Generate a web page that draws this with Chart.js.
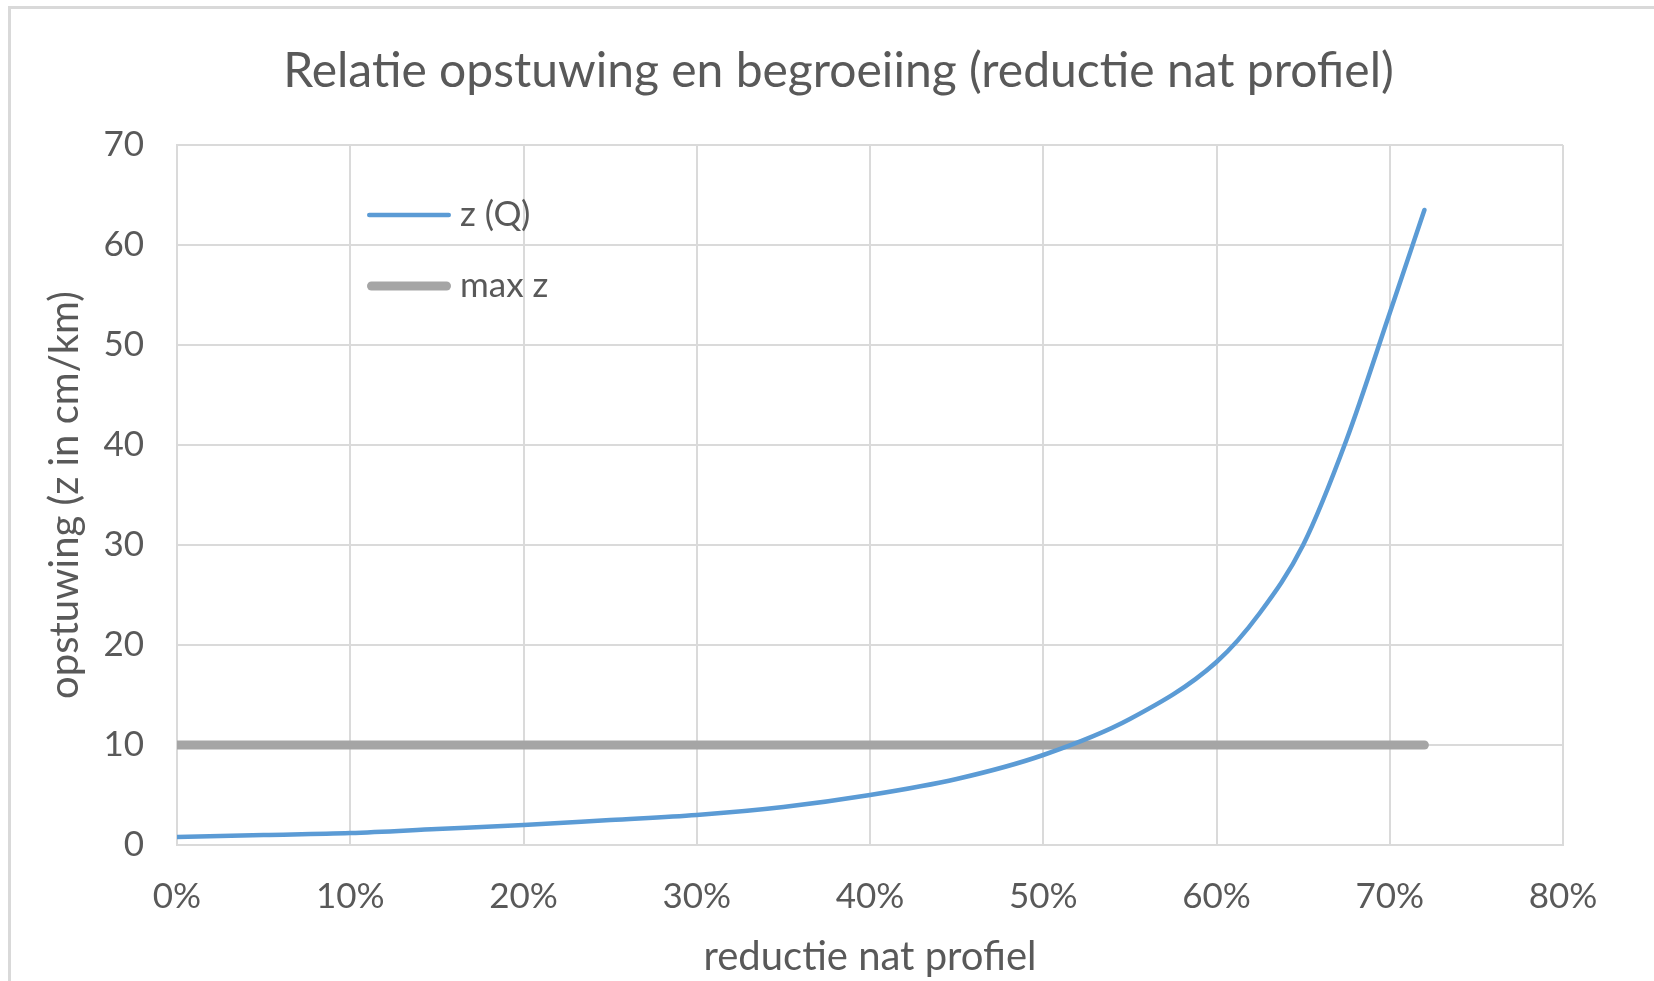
<!DOCTYPE html>
<html><head><meta charset="utf-8">
<script src="https://cdn.jsdelivr.net/npm/chart.js@4"></script>
<style>
html,body{margin:0;padding:0;background:#fff;}
#wrap{position:relative;width:1654px;height:981px;overflow:hidden;background:#fff;}
#frame{position:absolute;left:8px;top:6px;width:1700px;height:1100px;border-top:3px solid #d9d9d9;border-left:3px solid #d9d9d9;}
canvas{position:absolute;left:0;top:0;}
</style></head><body>
<div id="wrap"><div id="frame"></div><canvas id="c" width="1654" height="981"></canvas></div>
<script>
// Data
const reductie = [0, 5, 10, 15, 20, 25, 30, 35, 40, 45, 50, 55, 60, 62.5, 65, 67.5, 70, 72];
const opstuwingZ = [0.8, 1.0, 1.2, 1.6, 2.0, 2.5, 3.0, 3.8, 5.0, 6.6, 9.0, 12.6, 18.3, 23.2, 30.0, 40.5, 53.2, 63.5];
const maxZx = [0, 72];
const maxZy = [10, 10];
const seriesLabels = ['z (Q)', 'max z'];
const chartTitle = 'Relatie opstuwing en begroeiing (reductie nat profiel)';
const xTitle = 'reductie nat profiel';
const yTitle = 'opstuwing (z in cm/km)';

const TXT = '#595959';
const GRID = '#dadada';
const FONT = 'Lato';

const innerLegend = {
  id: 'innerLegend',
  afterDatasetsDraw(chart) {
    const {ctx, chartArea} = chart;
    chart.data.datasets.forEach((ds, i) => {
      const y = chartArea.top + 70 + i * 71;
      const w = ds.borderWidth;
      const x0 = chartArea.left + 190, x1 = chartArea.left + 274;
      ctx.save();
      ctx.strokeStyle = ds.borderColor;
      ctx.lineWidth = w;
      ctx.lineCap = 'round';
      ctx.beginPath();
      ctx.moveTo(x0 + w / 2, y);
      ctx.lineTo(x1 - w / 2, y);
      ctx.stroke();
      ctx.fillStyle = TXT;
      ctx.font = '35px ' + FONT;
      ctx.textBaseline = 'middle';
      ctx.textAlign = 'left';
      ctx.fillText(ds.label, chartArea.left + 283, y);
      ctx.restore();
    });
  }
};

new Chart(document.getElementById('c'), {
  type: 'line',
  data: {
    datasets: [
      {
        label: seriesLabels[0],
        data: reductie.map((x, i) => ({x: x, y: opstuwingZ[i]})),
        borderColor: '#5b9bd5',
        borderWidth: 4.5,
        pointRadius: 0,
        cubicInterpolationMode: 'monotone',
        borderCapStyle: 'round',
        borderJoinStyle: 'round',
        fill: false,
        order: 1
      },
      {
        label: seriesLabels[1],
        data: maxZx.map((x, i) => ({x: x, y: maxZy[i]})),
        borderColor: '#a5a5a5',
        borderWidth: 9,
        pointRadius: 0,
        borderCapStyle: 'round',
        fill: false,
        clip: {left: 0, right: 10, top: 10, bottom: 0},
        order: 2
      }
    ]
  },
  options: {
    responsive: false,
    animation: false,
    layout: {padding: {left: 23, right: 0, top: 0, bottom: 0}},
    plugins: {
      legend: {display: false},
      tooltip: {enabled: false},
      title: {
        display: true,
        text: chartTitle,
        color: TXT,
        font: {family: FONT, size: 48, weight: 'normal'},
        padding: {top: 43, bottom: 44.4}
      }
    },
    scales: {
      x: {
        type: 'linear',
        min: 0, max: 80,
        afterFit(scale) { scale.height = 136; },
        ticks: {
          stepSize: 10,
          color: TXT,
          font: {family: FONT, size: 35},
          padding: 31,
          maxRotation: 0,
          callback: v => v + '%'
        },
        grid: {color: GRID, lineWidth: 2, drawTicks: false},
        border: {color: GRID, width: 2},
        title: {
          display: true, text: xTitle, color: TXT,
          font: {family: FONT, size: 40},
          padding: {top: 0, bottom: 0}
        }
      },
      y: {
        type: 'linear',
        min: 0, max: 70,
        afterFit(scale) { scale.width = 154; },
        ticks: {
          stepSize: 10,
          color: TXT,
          font: {family: FONT, size: 35},
          padding: 33
        },
        grid: {color: GRID, lineWidth: 2, drawTicks: false},
        border: {color: GRID, width: 2},
        title: {
          display: true, text: yTitle, color: TXT,
          font: {family: FONT, size: 40},
          padding: {top: 18, bottom: 0}
        }
      },
      yRightSpace: {
        type: 'linear',
        position: 'right',
        min: 0, max: 70,
        afterFit(scale) { scale.width = 91; },
        ticks: {display: false},
        grid: {display: false, drawOnChartArea: false},
        border: {display: false},
        title: {display: false}
      }
    }
  },
  plugins: [innerLegend]
});
</script>
</body></html>
